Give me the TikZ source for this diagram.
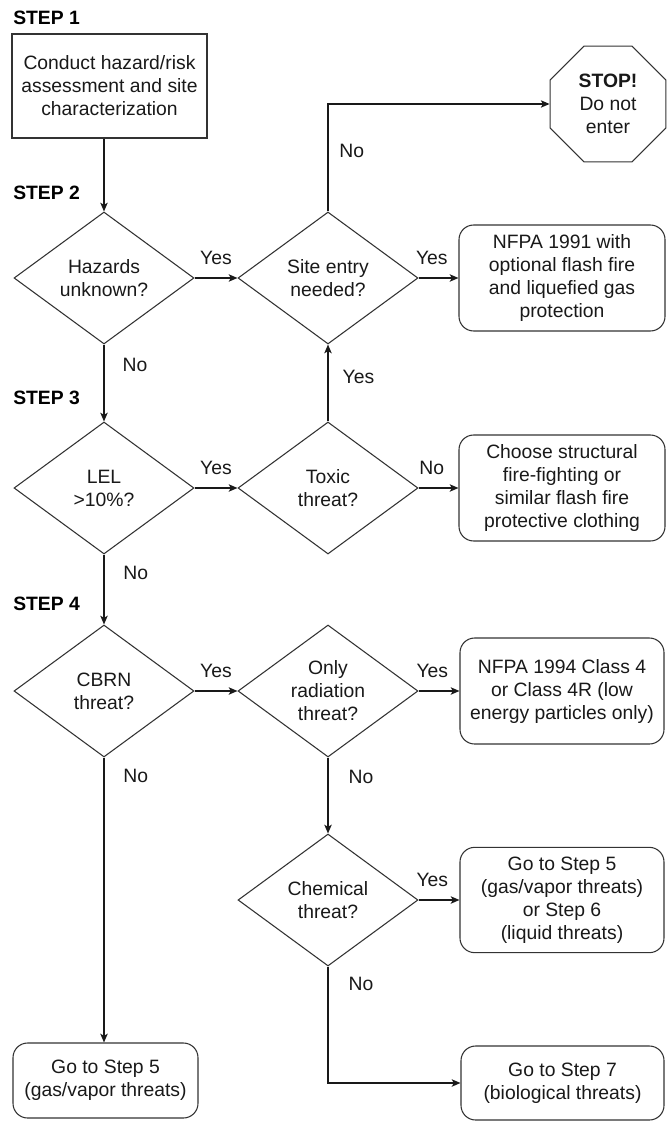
\documentclass[tikz,border=0pt]{standalone}
\usepackage{fontspec}
\setmainfont{Liberation Sans}
\usetikzlibrary{shapes.geometric,arrows.meta}
\begin{document}
\begin{tikzpicture}[x=0.75pt,y=-0.75pt,
  base/.style={font=\fontsize{14.5pt}{17.25pt}\selectfont, align=center, text=black!90},
  box/.style={base, draw=black!80, line width=0.8pt, rectangle, inner sep=0pt},
  rbox/.style={box, rounded corners=11pt},
  dia/.style={base, draw=black!80, line width=0.8pt, diamond, aspect=1.36,
    minimum width=135pt, minimum height=99pt, inner sep=0pt},
  stopsign/.style={base, draw=black!80, line width=0.8pt, regular polygon,
    regular polygon sides=8, minimum size=94pt, inner sep=0pt},
  steplbl/.style={font=\bfseries\fontsize{14.5pt}{17pt}\selectfont, anchor=west, inner sep=0pt},
  lbl/.style={font=\fontsize{14.5pt}{17pt}\selectfont, inner sep=0pt, text=black!90},
  arr/.style={line width=1.1pt, draw=black!90,
    -{Stealth[length=6.5pt,width=5.5pt,inset=1.5pt]}}
]
\fill[white] (0,0) rectangle (670,1130);
\useasboundingbox (0,0) rectangle (670,1130);

% step labels
\node[steplbl] (s1) at (13,18) {STEP 1};
\node[steplbl] (s2) at (13,193) {STEP 2};
\node[steplbl] (s3) at (13,398) {STEP 3};
\node[steplbl] (s4) at (13,604) {STEP 4};

% nodes
\node[box, minimum width=146.25pt, minimum height=78pt] (assess) at (109.5,86)
  {Conduct hazard/risk\\assessment and site\\characterization};
\node[dia] (d1) at (104,278) {Hazards\\unknown?};
\node[dia] (d2) at (328,278) {Site entry\\needed?};
\node[stopsign] (stop) at (608,104) {\textbf{STOP!}\\Do not\\enter};
\node[rbox, minimum width=154.5pt, minimum height=79.5pt] (nfpa91) at (562,278)
  {NFPA 1991 with\\optional flash fire\\and liquefied gas\\protection};
\node[dia] (d3) at (104,488) {LEL\\>10\%?};
\node[dia] (d4) at (328,488) {Toxic\\threat?};
\node[rbox, minimum width=154.5pt, minimum height=79.5pt] (choose) at (562,488)
  {Choose structural\\fire-fighting or\\similar flash fire\\protective clothing};
\node[dia] (d5) at (104,691) {CBRN\\threat?};
\node[dia] (d6) at (328,691) {Only\\radiation\\threat?};
\node[rbox, minimum width=153pt, minimum height=79.5pt] (nfpa94) at (562,691)
  {NFPA 1994 Class 4\\or Class 4R (low\\energy particles only)};
\node[dia] (d7) at (328,900) {Chemical\\threat?};
\node[rbox, minimum width=153pt, minimum height=79pt] (go56) at (562,900)
  {Go to Step 5\\(gas/vapor threats)\\or Step 6\\(liquid threats)};
\node[rbox, minimum width=152.25pt, minimum height=55.5pt] (go7) at (562.5,1083)
  {Go to Step 7\\(biological threats)};
\node[rbox, minimum width=138.75pt, minimum height=56.25pt] (go5) at (105.5,1080.5)
  {Go to Step 5\\(gas/vapor threats)};

% connectors
\draw[arr] (d1.north |- assess.south) -- (d1.north);
\draw[arr] (d1.east) -- node[lbl, above=9.75pt]{Yes} (d2.west);
\draw[arr] (d2.north) |- node[lbl, pos=0.28, right=8pt]{No} (stop.west);
\draw[arr] (d2.east) -- node[lbl, above=9.75pt, xshift=-5pt]{Yes} (nfpa91.west);
\draw[arr] (d1.south) -- node[lbl, pos=0.26, right=13.5pt]{No} (d3.north);
\draw[arr] (d3.east) -- node[lbl, above=9.75pt]{Yes} (d4.west);
\draw[arr] (d4.north) -- node[lbl, pos=0.58, right=10.5pt]{Yes} (d2.south);
\draw[arr] (d4.east) -- node[lbl, above=9.75pt, xshift=-5pt]{No} (choose.west);
\draw[arr] (d3.south) -- node[lbl, pos=0.26, right=14pt]{No} (d5.north);
\draw[arr] (d5.east) -- node[lbl, above=9.75pt]{Yes} (d6.west);
\draw[arr] (d6.east) -- node[lbl, above=9.75pt, xshift=-5pt]{Yes} (nfpa94.west);
\draw[arr] (d6.south) -- node[lbl, pos=0.25, right=15pt]{No} (d7.north);
\draw[arr] (d7.east) -- node[lbl, above=9.75pt, xshift=-5pt]{Yes} (go56.west);
\draw[arr] (d7.south) |- node[lbl, pos=0.074, right=15pt]{No} (go7.west);
\draw[arr] (d5.south) -- node[lbl, pos=0.066, right=14pt]{No} (d5.south |- go5.north);
\end{tikzpicture}
\end{document}
